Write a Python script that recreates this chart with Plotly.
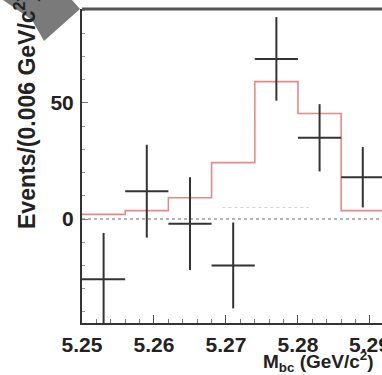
import plotly.graph_objects as go

# ---- data ----
bin_centers = [5.253, 5.259, 5.265, 5.271, 5.277, 5.283, 5.289]
events = [-26, 12, -2, -20, 69, 35, 18]
event_errors = [20, 20, 20, 18.5, 18, 14.5, 13]
half_bin = [0.003] * 7

fit_edges = [5.250, 5.256, 5.262, 5.268, 5.274, 5.280, 5.286, 5.292]
fit_values = [2.0, 3.6, 9.2, 24.3, 59.2, 45.5, 3.6, 3.6]

bkg_x = [5.2695, 5.2815]
bkg_y = [5.0, 5.0]

x_ticks = [5.25, 5.26, 5.27, 5.28, 5.29]
x_tick_labels = ["5.25", "5.26", "5.27", "5.28", "5.29"]
y_ticks = [0, 50]
y_tick_labels = ["0", "50"]

X_RANGE = [5.25, 5.29167]
Y_RANGE = [-44.8, 90.5]

FONT = "Liberation Sans, Arial, sans-serif"

fig = go.Figure()

# zero (background) line
fig.add_trace(go.Scatter(x=[X_RANGE[0], X_RANGE[1]], y=[0, 0], mode="lines",
                         line=dict(color="#9a9a9a", width=1.5, dash="dot"),
                         showlegend=False, hoverinfo="skip"))
# faint peaking component
fig.add_trace(go.Scatter(x=bkg_x, y=bkg_y, mode="lines",
                         line=dict(color="#d0d0d0", width=1, dash="dot"),
                         showlegend=False, hoverinfo="skip"))
# fit histogram
fig.add_trace(go.Scatter(x=fit_edges, y=fit_values, mode="lines", line_shape="hv",
                         line=dict(color="#e58a8a", width=1.6),
                         showlegend=False, hoverinfo="skip"))
# data crosses
fig.add_trace(go.Scatter(x=bin_centers, y=events, mode="markers",
                         marker=dict(size=1, color="rgba(0,0,0,0)"),
                         error_x=dict(type="data", array=half_bin, width=0,
                                      color="#333333", thickness=2),
                         error_y=dict(type="data", array=event_errors, width=0,
                                      color="#333333", thickness=2),
                         showlegend=False, hoverinfo="skip"))

TICK_SIZE = 21
axis_font = dict(family=FONT, size=TICK_SIZE, color="#222222", weight="bold")

# the last label is cut by the picture edge in the reference; drawn as annotation below
x_tick_text_axis = x_tick_labels[:-1] + [""]

fig.update_xaxes(range=X_RANGE, tickvals=x_ticks, ticktext=x_tick_text_axis,
                 ticks="inside", ticklen=8, tickwidth=1.2, tickcolor="#555",
                 minor=dict(dtick=0.002, ticks="inside", ticklen=4, tickcolor="#777", tickwidth=1),
                 showline=True, linecolor="#333", linewidth=2, mirror=False,
                 showgrid=False, zeroline=False, tickfont=axis_font,
                 ticklabelstandoff=2)
fig.update_yaxes(range=Y_RANGE, tickvals=y_ticks, ticktext=y_tick_labels,
                 ticks="inside", ticklen=6, tickwidth=1.2, tickcolor="#777",
                 minor=dict(dtick=10, ticks="inside", ticklen=3, tickcolor="#999", tickwidth=1),
                 showline=True, linecolor="#333", linewidth=2, mirror=False,
                 showgrid=False, zeroline=False, tickfont=axis_font,
                 ticklabelstandoff=2)

L, T, B, W, H = 82, 9, 52, 382, 375
PW, PH = W - L, H - T - B

def px(xp):
    return (xp - L) / PW

def py(yp):
    return (H - B - yp) / PH

# top frame line
fig.add_shape(type="line", xref="paper", yref="paper", x0=0, x1=1, y0=1, y1=1,
              line=dict(color="#555555", width=3))

# grey corner shape (cropping artifact in the reference)
pts = [(3, 0), (72, 0), (80, 9), (44, 41), (32, 20)]
path = "M " + " L ".join(f"{px(a)},{py(b)}" for a, b in pts) + " Z"
fig.add_shape(type="path", xref="paper", yref="paper", path=path,
              fillcolor="#7a7a7a", line=dict(width=0), layer="above")

fig.add_annotation(text=x_tick_labels[-1], xref="x", yref="paper",
                   x=x_ticks[-1], y=py(344), xanchor="center", yanchor="middle",
                   showarrow=False, font=axis_font)

fig.add_annotation(text="M<sub>bc</sub> (GeV/c<sup>2</sup>)", xref="paper", yref="paper",
                   x=px(261), y=py(361), xanchor="left", yanchor="middle", showarrow=False,
                   font=dict(family=FONT, size=19, color="#222", weight="bold"))
fig.add_annotation(text="Events/(0.006 GeV/c<sup>2</sup>)", xref="paper", yref="paper",
                   x=px(25), y=py(112), xanchor="center", yanchor="middle", textangle=-90,
                   showarrow=False,
                   font=dict(family=FONT, size=23, color="#222", weight="bold"))

fig.update_layout(width=W, height=H, margin=dict(l=L, r=0, t=T, b=B, pad=0),
                  plot_bgcolor="white", paper_bgcolor="white", showlegend=False)

fig.write_html("out.html")
